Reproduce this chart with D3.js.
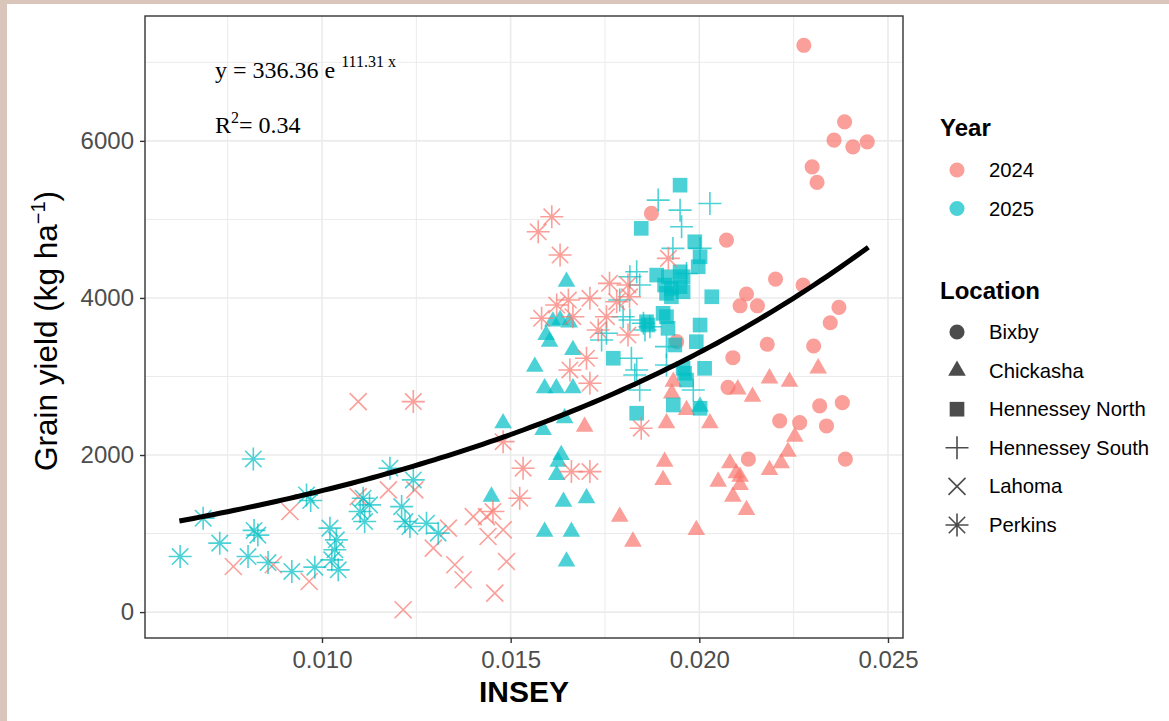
<!DOCTYPE html>
<html>
<head>
<meta charset="utf-8">
<script src="https://cdn.jsdelivr.net/npm/d3@7"></script>
<style>
  body { margin: 0; background: #fff; }
  text { font-family: "Liberation Sans", Arial, sans-serif; }
</style>
</head>
<body>
<svg width="1169" height="721"></svg>
<script>
// [INSEY, grain yield, year]
const bixby = [
  [0.02277,7217,2024],[0.02385,6242,2024],[0.02357,6009,2024],[0.02407,5924,2024],[0.02445,5988,2024],
  [0.02299,5669,2024],[0.02312,5471,2024],[0.01873,5076,2024],[0.02072,4737,2024],[0.02202,4240,2024],
  [0.02125,4050,2024],[0.02108,3900,2024],[0.02154,3900,2024],[0.02275,4164,2024],[0.0237,3880,2024],
  [0.02347,3684,2024],[0.0218,3410,2024],[0.02303,3388,2024],[0.02089,3239,2024],[0.02076,2862,2024],
  [0.02319,2625,2024],[0.02379,2667,2024],[0.02213,2434,2024],[0.02266,2412,2024],[0.02337,2370,2024],
  [0.0213,1947,2024],[0.02387,1947,2024],[0.0194,3443,2024]
];
const chickasha = [
  [0.01931,2934,2024],[0.01927,2786,2024],[0.01913,2405,2024],[0.01966,2574,2024],[0.02028,2405,2024],
  [0.01696,2361,2024],[0.01908,1916,2024],[0.01904,1683,2024],[0.01789,1216,2024],[0.01824,898,2024],
  [0.01992,1047,2024],[0.02315,3104,2024],[0.02186,2977,2024],[0.02239,2934,2024],[0.02102,2837,2024],
  [0.02141,2743,2024],[0.02253,2234,2024],[0.02235,2043,2024],[0.02217,1896,2024],[0.02186,1811,2024],
  [0.02081,1896,2024],[0.0205,1662,2024],[0.02098,1768,2024],[0.02108,1725,2024],[0.02108,1620,2024],
  [0.02089,1471,2024],[0.02125,1302,2024],
  [0.0148,2405,2025],[0.01449,1471,2025],[0.01648,4206,2025],[0.01631,3720,2025],[0.01612,3700,2025],
  [0.01655,3690,2025],[0.01594,3528,2025],[0.01603,3443,2025],[0.01665,3337,2025],[0.01564,3125,2025],
  [0.0159,2850,2025],[0.01621,2850,2025],[0.01665,2850,2025],[0.01643,2468,2025],[0.01586,2319,2025],
  [0.01634,2001,2025],[0.01626,1916,2025],[0.01622,1747,2025],[0.0164,1407,2025],[0.01701,1450,2025],
  [0.0159,1025,2025],[0.01661,1025,2025],[0.01648,644,2025],[0.02002,2616,2025]
];
const hennesseyNorth = [
  [0.01949,5436,2025],[0.01846,4886,2025],[0.01988,4715,2025],[0.02002,4524,2025],[0.01997,4397,2025],
  [0.01887,4291,2025],[0.01918,4270,2025],[0.01949,4333,2025],[0.01957,4270,2025],[0.01908,4164,2025],
  [0.01926,4122,2025],[0.01949,4143,2025],[0.01913,4059,2025],[0.01926,4015,2025],[0.01957,4079,2025],
  [0.02033,4015,2025],[0.01904,3804,2025],[0.01913,3761,2025],[0.0186,3697,2025],[0.01864,3655,2025],
  [0.01917,3613,2025],[0.02002,3655,2025],[0.01992,3443,2025],[0.01935,3401,2025],[0.01772,3232,2025],
  [0.01957,3104,2025],[0.02014,3104,2025],[0.01834,2532,2025],[0.01931,2637,2025],[0.02002,2595,2025],
  [0.01966,2955,2025],[0.01961,3041,2025]
];
const hennesseySouth = [
  [0.01891,5246,2025],[0.01949,5118,2025],[0.01953,4906,2025],[0.02028,5203,2025],[0.0193,4631,2025],
  [0.02002,4631,2025],[0.01834,4333,2025],[0.01816,4270,2025],[0.01842,4164,2025],[0.01966,4312,2025],
  [0.01789,3973,2025],[0.01798,3761,2025],[0.01816,3719,2025],[0.01852,3677,2025],[0.01869,3634,2025],
  [0.01856,3592,2025],[0.01754,3550,2025],[0.01741,3465,2025],[0.01913,3380,2025],[0.0182,3232,2025],
  [0.01834,3083,2025],[0.01829,3019,2025],[0.01842,2828,2025],[0.01913,3146,2025],[0.01984,2828,2025]
];
const lahoma = [
  [0.01096,2680,2024],[0.00915,1280,2024],[0.00765,580,2024],[0.00871,602,2024],[0.00966,389,2024],
  [0.01176,1556,2024],[0.01096,1470,2024],[0.01215,29,2024],[0.01246,1556,2024],[0.01295,814,2024],
  [0.01352,602,2024],[0.01374,411,2024],[0.01401,1216,2024],[0.01335,1069,2024],[0.01436,1216,2024],
  [0.0144,962,2024],[0.0148,1047,2024],[0.01489,644,2024],[0.01458,242,2024]
];
const perkins = [
  [0.01242,2680,2024],[0.01573,4842,2024],[0.01609,5033,2024],[0.01631,4546,2024],[0.01622,3910,2024],
  [0.01653,3973,2024],[0.01582,3741,2024],[0.01657,3083,2024],[0.01533,1832,2024],[0.01524,1450,2024],
  [0.0148,2170,2024],[0.01453,1280,2024],[0.0171,3995,2024],[0.01665,3761,2024],[0.01732,3592,2024],
  [0.01762,4186,2024],[0.01811,4164,2024],[0.01781,3952,2024],[0.01815,4015,2024],[0.01754,3761,2024],
  [0.01811,3528,2024],[0.01701,3232,2024],[0.0171,2913,2024],[0.01918,4504,2024],[0.01846,2341,2024],
  [0.01661,1789,2024],[0.0171,1789,2024],
  [0.00624,707,2025],[0.00685,1196,2025],[0.00729,878,2025],[0.00818,1950,2025],[0.0082,1040,2025],
  [0.0083,980,2025],[0.00804,707,2025],[0.00857,631,2025],[0.0092,517,2025],[0.00959,1492,2025],
  [0.0097,1420,2025],[0.00981,572,2025],[0.01021,1069,2025],[0.01026,665,2025],[0.01038,920,2025],
  [0.01043,538,2025],[0.01034,793,2025],[0.01109,1450,2025],[0.01113,1153,2025],[0.01126,1365,2025],
  [0.01101,1280,2025],[0.0118,1832,2025],[0.01242,1683,2025],[0.01211,1343,2025],[0.0122,1153,2025],
  [0.01233,1089,2025],[0.01277,1132,2025],[0.01308,1005,2025]
];

const locations = ["Bixby", "Chickasha", "Hennessey North", "Hennessey South", "Lahoma", "Perkins"];
const locationData = [bixby, chickasha, hennesseyNorth, hennesseySouth, lahoma, perkins];
const years = [2024, 2025];
const yearColors = ["#F8766D", "#00BFC4"];
const xTicks = [0.010, 0.015, 0.020, 0.025];
const yTicks = [0, 2000, 4000, 6000];
// fitted exponential curve as drawn, and its x span
const fitA = 723, fitB = 76.0;
const fitRange = [0.00622, 0.02448];

const svg = d3.select("svg");
const panel = { left: 145, right: 903, top: 16, bottom: 638 };

// frame strips round the image
svg.append("rect").attr("x", 0).attr("y", 0).attr("width", 1169).attr("height", 4).attr("fill", "#d9c5b9");
svg.append("rect").attr("x", 0).attr("y", 0).attr("width", 7).attr("height", 721).attr("fill", "#d9c5b9");

const x = d3.scaleLinear().domain([0.005309, 0.025398]).range([panel.left, panel.right]);
const y = d3.scaleLinear().domain([-330, 7590]).range([panel.bottom, panel.top]);
const color = d3.scaleOrdinal().domain(years).range(yearColors);

const grid = svg.append("g").attr("stroke", "#ebebeb");
const xMinor = [0.0075, 0.0125, 0.0175, 0.0225];
const yMinor = [1000, 3000, 5000, 7000];
grid.selectAll(".vx").data(xMinor.concat(xTicks)).join("line")
  .attr("x1", d => x(d)).attr("x2", d => x(d))
  .attr("y1", panel.top).attr("y2", panel.bottom)
  .attr("stroke-width", (d, i) => i < xMinor.length ? 1 : 1.6);
grid.selectAll(".hy").data(yMinor.concat(yTicks)).join("line")
  .attr("y1", d => y(d)).attr("y2", d => y(d))
  .attr("x1", panel.left).attr("x2", panel.right)
  .attr("stroke-width", (d, i) => i < yMinor.length ? 1 : 1.6);

// location shapes
const shapeFns = [
  () => d3.symbol(d3.symbolCircle, 180)(),
  () => d3.symbol(d3.symbolTriangle, 135)(),
  () => d3.symbol(d3.symbolSquare, 215)(),
  () => "M-11.5,0H11.5M0,-11.5V11.5",
  () => "M-8.5,-8.5L8.5,8.5M-8.5,8.5L8.5,-8.5",
  () => "M-11.5,0H11.5M0,-11.5V11.5M-8.2,-8.2L8.2,8.2M-8.2,8.2L8.2,-8.2"
];
const filled = [true, true, true, false, false, false];

const pts = svg.append("g");
locationData.forEach((rows, li) => {
  pts.selectAll(null).data(rows).join("path")
    .attr("transform", d => `translate(${x(d[0])},${y(d[1])})`)
    .attr("d", shapeFns[li]())
    .attr("fill", d => filled[li] ? color(d[2]) : "none")
    .attr("stroke", d => filled[li] ? "none" : color(d[2]))
    .attr("stroke-width", 1.6)
    .attr("opacity", 0.7);
});

// fitted curve
const curveXs = d3.range(0, 101).map(i => fitRange[0] + (fitRange[1] - fitRange[0]) * i / 100);
svg.append("path")
  .attr("d", d3.line().x(d => x(d)).y(d => y(fitA * Math.exp(fitB * d)))(curveXs))
  .attr("fill", "none").attr("stroke", "#000").attr("stroke-width", 5);

// panel border
svg.append("rect").attr("x", panel.left).attr("y", panel.top)
  .attr("width", panel.right - panel.left).attr("height", panel.bottom - panel.top)
  .attr("fill", "none").attr("stroke", "#333").attr("stroke-width", 1.4);

// axes
const xAxis = svg.append("g").attr("transform", `translate(0,${panel.bottom})`)
  .call(d3.axisBottom(x).tickValues(xTicks).tickFormat(d3.format(".3f")).tickSize(5).tickPadding(8));
const yAxis = svg.append("g").attr("transform", `translate(${panel.left},0)`)
  .call(d3.axisLeft(y).tickValues(yTicks).tickSize(5).tickPadding(6).tickFormat(d3.format("d")));
[xAxis, yAxis].forEach(a => {
  a.select(".domain").remove();
  a.selectAll(".tick line").attr("stroke", "#333").attr("stroke-width", 1.4);
  a.selectAll(".tick text").attr("fill", "#4d4d4d").attr("font-size", 24)
    .attr("font-family", "'Liberation Sans', Arial, sans-serif");
});

svg.append("text").attr("x", 524).attr("y", 702).attr("text-anchor", "middle")
  .attr("font-size", 30).attr("font-weight", "bold").text("INSEY");

const yl = svg.append("text").attr("transform", "translate(57,331) rotate(-90)")
  .attr("text-anchor", "middle").attr("font-size", 31.5);
yl.append("tspan").text("Grain yield (kg ha");
yl.append("tspan").attr("font-size", 20).attr("dy", -12).text("−1");
yl.append("tspan").attr("dy", 12).text(")");

// equation
const eq = svg.append("g");
const t1 = eq.append("text").attr("x", 215).attr("y", 78).attr("font-size", 24)
  .style("font-family", "'Liberation Serif', serif");
t1.append("tspan").text("y = 336.36 e ");
t1.append("tspan").attr("font-size", 16).attr("dy", -11).text("111.31 x");
const t2 = eq.append("text").attr("x", 215).attr("y", 133).attr("font-size", 24)
  .style("font-family", "'Liberation Serif', serif");
t2.append("tspan").text("R");
t2.append("tspan").attr("font-size", 16).attr("dy", -10).text("2");
t2.append("tspan").attr("dy", 10).text("= 0.34");

// legends
const leg = svg.append("g");
leg.append("text").attr("x", 940).attr("y", 136).attr("font-size", 24).attr("font-weight", "bold").text("Year");
years.forEach((yr, i) => {
  const cy = 170 + i * 38.5;
  leg.append("path").attr("transform", `translate(957,${cy})`)
    .attr("d", d3.symbol(d3.symbolCircle, 180)()).attr("fill", color(yr)).attr("opacity", 0.7);
  leg.append("text").attr("x", 989).attr("y", cy + 7).attr("font-size", 20.3).text(yr);
});
leg.append("text").attr("x", 940).attr("y", 299).attr("font-size", 24).attr("font-weight", "bold").text("Location");
locations.forEach((loc, i) => {
  const cy = 332 + i * 38.6;
  leg.append("path").attr("transform", `translate(957,${cy})`)
    .attr("d", shapeFns[i]())
    .attr("fill", filled[i] ? "#000" : "none")
    .attr("stroke", filled[i] ? "none" : "#000")
    .attr("stroke-width", 1.6).attr("opacity", 0.7);
  leg.append("text").attr("x", 989).attr("y", cy + 7).attr("font-size", 20.3).text(loc);
});
</script>
</body>
</html>
